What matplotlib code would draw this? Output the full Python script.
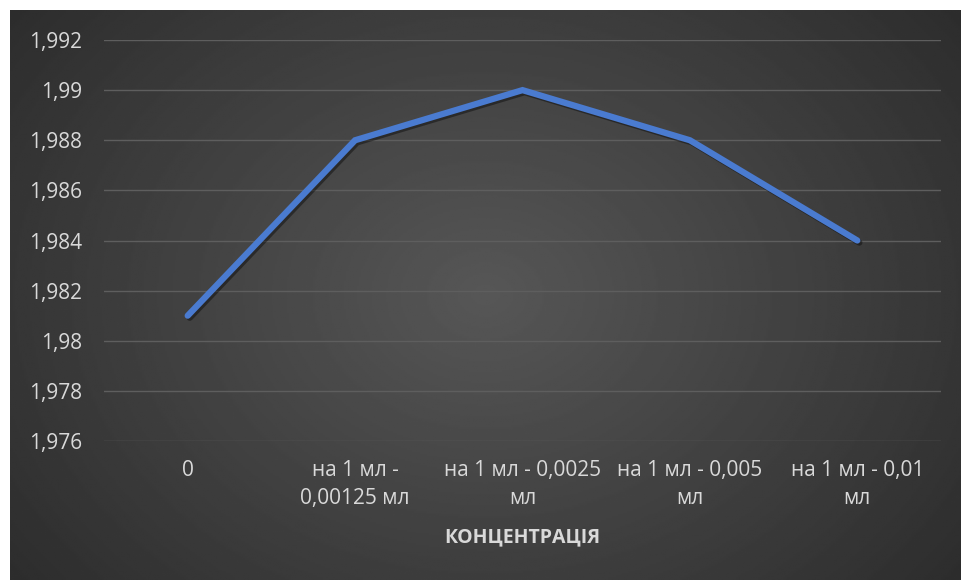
import numpy as np
import matplotlib.pyplot as plt
import matplotlib.patheffects as pe
from matplotlib.ticker import FuncFormatter

categories = ['0', 'на 1 мл -\n0,00125 мл', 'на 1 мл - 0,0025\nмл',
              'на 1 мл - 0,005\nмл', 'на 1 мл - 0,01\nмл']
values = [1.981, 1.988, 1.990, 1.988, 1.984]
y_ticks = [1.976, 1.978, 1.980, 1.982, 1.984, 1.986, 1.988, 1.990, 1.992]

plt.rcParams['font.family'] = ['Open Sans', 'DejaVu Sans']
txt = '#d9d9d9'

fig = plt.figure(figsize=(9.61, 5.80), dpi=100)
fig.patch.set_facecolor('white')

# radial gradient background
bg = fig.add_axes([10/961, 0, 951/961, 570/580])
bg.set_axis_off()
yy, xx = np.mgrid[0:1:300j, 0:1:500j]
r = np.sqrt(((xx - 0.5) * 1.3) ** 2 + ((yy - 0.5)) ** 2)
shade = np.clip(0.34 - 0.2 * r, 0.15, 0.34)
bg.imshow(shade, cmap='gray', vmin=0, vmax=1, aspect='auto', extent=[0, 1, 0, 1])

ax = fig.add_axes([104/961, 1 - 441/580, 837/961, 401/580])
ax.patch.set_alpha(0)
x = np.arange(len(categories))
ax.plot(x, values, color='#4a7bd0', lw=4.5, solid_capstyle='round', solid_joinstyle='miter',
        zorder=3, path_effects=[pe.SimpleLineShadow(offset=(1.5, -1.5), alpha=0.4), pe.Normal()])
ax.set_xlim(-0.5, len(categories) - 0.5)
ax.set_ylim(1.976, 1.992)
ax.set_yticks(y_ticks)
ax.yaxis.set_major_formatter(FuncFormatter(lambda v, p: ('%g' % round(v, 4)).replace('.', ',')))
ax.set_xticks(x)
ax.set_xticklabels(categories, linespacing=1.4)
ax.grid(True, axis='y', color='#5e5e5e', lw=1)
ax.set_axisbelow(True)
for s in ax.spines.values():
    s.set_visible(False)
ax.tick_params(length=0, colors=txt, labelsize=15)
ax.tick_params(axis='y', pad=16)
ax.tick_params(axis='x', pad=14)
ax.set_xlabel('КОНЦЕНТРАЦІЯ', color=txt, fontsize=14, fontweight='bold', labelpad=13)

fig.savefig('out.png', dpi=100)
